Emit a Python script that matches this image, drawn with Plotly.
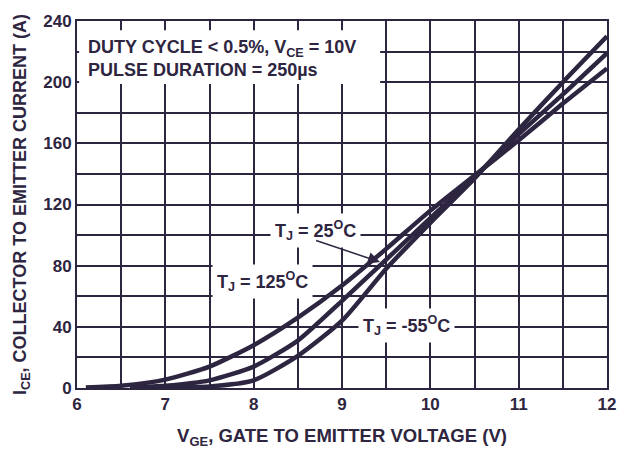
import plotly.graph_objects as go

# ---- data ----
vge_125 = [6.1, 6.5, 7.0, 7.5, 8.0, 8.5, 9.0, 9.5, 10.0, 10.5, 11.0, 11.5, 12.0]
ice_125 = [0.3, 1.5, 5.5, 14, 28, 46, 67, 91, 116, 139, 162, 186, 209]

vge_25 = [6.6, 7.0, 7.5, 8.0, 8.5, 9.0, 9.5, 10.0, 10.5, 11.0, 11.5, 12.0]
ice_25 = [0.3, 1.5, 5, 14, 31, 57, 84, 111, 138, 166, 192, 219]

vge_m55 = [7.0, 7.5, 8.0, 8.5, 9.0, 9.5, 10.0, 10.5, 11.0, 11.5, 12.0]
ice_m55 = [0.3, 1, 5, 21, 44, 78, 108, 137, 169, 200, 230]

x_ticks = [6, 7, 8, 9, 10, 11, 12]
x_tick_text = ["6", "7", "8", "9", "10", "11", "12"]
y_ticks = [0, 40, 80, 120, 160, 200, 240]
y_tick_text = ["0", "40", "80", "120", "160", "200", "240"]

INK = "#2e2540"
FONT = "Liberation Sans, Arial, sans-serif"

fig = go.Figure()
for xs, ys in [(vge_125, ice_125), (vge_25, ice_25), (vge_m55, ice_m55)]:
    fig.add_trace(go.Scatter(
        x=xs, y=ys, mode="lines",
        line=dict(color=INK, width=4.5, shape="spline", smoothing=0.6),
        showlegend=False, hoverinfo="skip"))

axis_common = dict(
    showline=True, linecolor=INK, linewidth=2, mirror=True,
    showgrid=True, gridcolor=INK, gridwidth=2,
    zeroline=False, ticks="", automargin=False, ticklabeloverflow="allow",
    tickfont=dict(family=FONT, size=17, color=INK, weight="bold"),
)

fig.update_layout(
    width=618, height=450,
    margin=dict(l=77, r=11, t=21, b=62),
    paper_bgcolor="white", plot_bgcolor="white",
    font=dict(family=FONT, color=INK),
    xaxis=dict(
        range=[6, 12], tickvals=x_ticks, ticktext=x_tick_text,
        minor=dict(dtick=0.5, showgrid=True, gridcolor=INK, gridwidth=2, ticks=""),
        title=dict(text="V<sub>GE</sub>, GATE TO EMITTER VOLTAGE (V)",
                   font=dict(family=FONT, size=18.5, color=INK, weight="bold"),
                   standoff=16),
        **axis_common),
    yaxis=dict(
        range=[0, 240], tickvals=y_ticks, ticktext=y_tick_text,
        minor=dict(dtick=20, showgrid=True, gridcolor=INK, gridwidth=2, ticks=""),
        title=dict(text="I<sub>CE</sub>, COLLECTOR TO EMITTER CURRENT (A)",
                   font=dict(family=FONT, size=18, color=INK, weight="bold"),
                   standoff=12),
        **axis_common),
)

# white box behind the test-condition note
fig.add_shape(type="rect", xref="paper", yref="paper",
              x0=0.004, x1=0.572, y0=0.828, y1=0.975,
              fillcolor="white", line=dict(width=0), layer="above")

lab_font = dict(family=FONT, size=18, color=INK, weight="bold")
note_font = dict(family=FONT, size=18, color=INK, weight="bold")

fig.add_annotation(
    xref="paper", yref="paper", x=0.017, y=0.898, xanchor="left", yanchor="middle",
    text="DUTY CYCLE < 0.5%, V<sub>CE</sub> = 10V<br>PULSE DURATION = 250µs",
    align="left", showarrow=False, font=note_font)

fig.add_annotation(
    x=8.70, y=103, text="T<sub>J</sub> = 25<sup>O</sup>C", showarrow=False,
    font=lab_font, bgcolor="white", borderpad=4)
fig.add_annotation(
    x=9.43, y=82.4, ax=8.69, ay=96.8, xref="x", yref="y", axref="x", ayref="y",
    text="", showarrow=True, arrowhead=2, arrowsize=1.6, arrowwidth=1.5,
    arrowcolor=INK, standoff=0)
fig.add_annotation(
    x=8.10, y=69.5, text="T<sub>J</sub> = 125<sup>O</sup>C", showarrow=False,
    font=lab_font, bgcolor="white", borderpad=4)
fig.add_annotation(
    x=9.73, y=41, text="T<sub>J</sub> = -55<sup>O</sup>C", showarrow=False,
    font=lab_font, bgcolor="white", borderpad=4)

fig.write_html("out.html", config={"displayModeBar": False},
               post_script="document.body.style.margin='0';")
